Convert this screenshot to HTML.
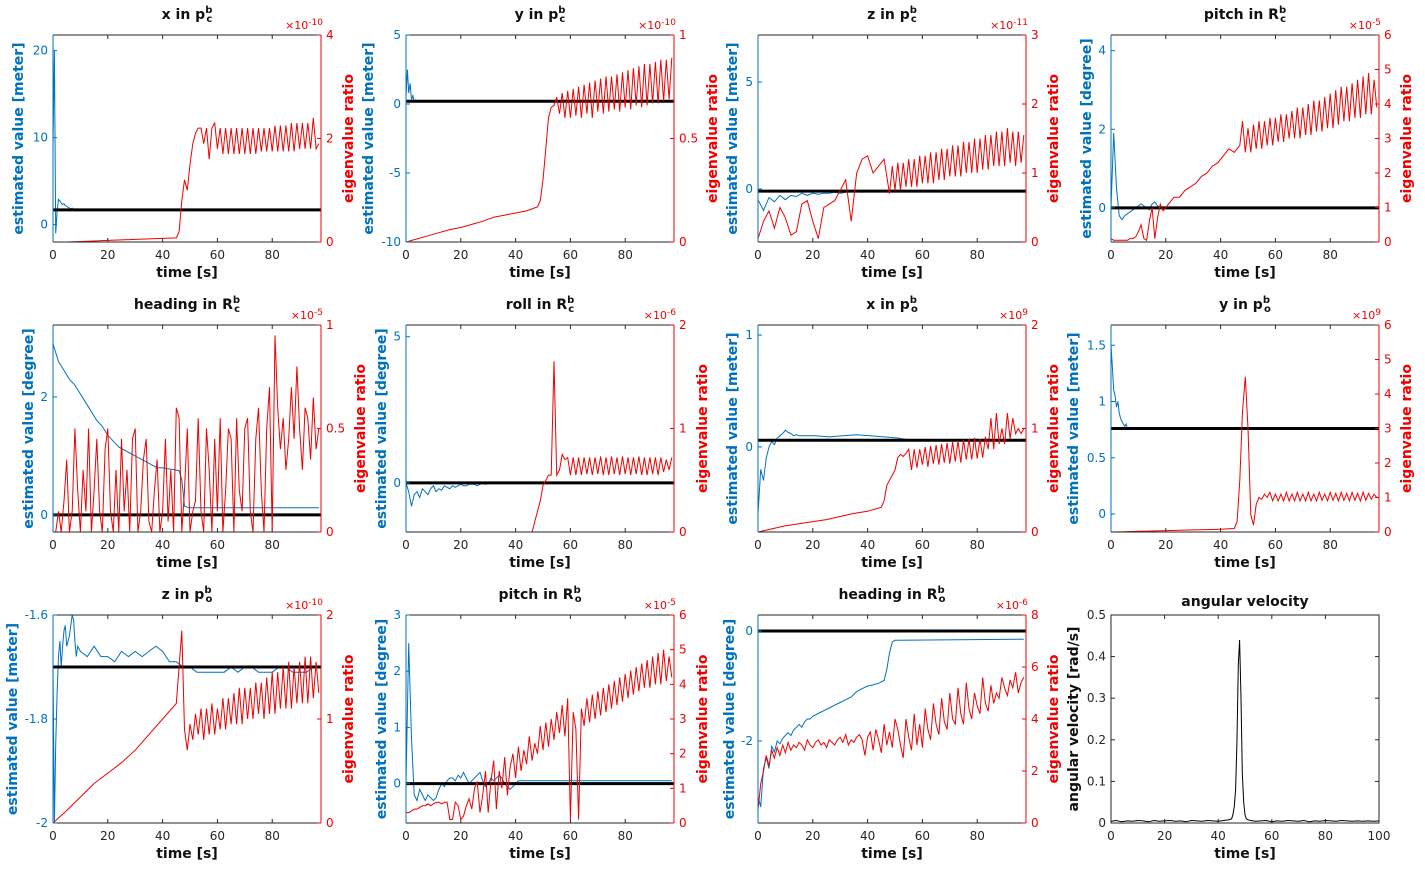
<!DOCTYPE html>
<html><head><meta charset="utf-8"><style>
body{margin:0;background:#fff}
svg{display:block;font-family:"DejaVu Sans","Liberation Sans",sans-serif}
</style></head><body>
<svg id="fig" width="1425" height="869" viewBox="0 0 1425 869" xmlns="http://www.w3.org/2000/svg"></svg>
<script>
// ---- data (segments: start time, step, values) ----
const p1BlueA=[9,20,-1,1.5,2.9,2.7,2.5,2.3,2.4,2.2,2.1,2.0,1.9,1.8,1.9,1.7];
const p1RedA=[0,0,0.01,0.02,0.03,0.04,0.05,0.06,0.07,0.08];
const p1RedB=[0.2,0.8,1.2,1.0,1.5,1.9,2.1,2.2,2.2,1.9,2.2,1.6,2.2,2.3,1.8,2.2,1.7,2.2,1.7,2.2,1.7,2.2,1.7,2.2,1.7,2.2,1.7,2.2,1.7,2.2,1.75,2.2,1.75,2.2,1.75,2.25,1.75,2.25,1.75,2.25,1.75,2.3,1.75,2.3,1.8,2.3,1.8,2.3,1.8,2.4,1.8,1.9];
const p2BlueA=[0.5,2.5,0.8,1.5,0.3,0.6,0.2,0.3,0.2];
const p2RedA=[0,0.015,0.03,0.045,0.06,0.07,0.085,0.1,0.12,0.13,0.14,0.15,0.17];
const p2RedB=[0.2,0.3,0.45,0.6,0.65,0.66,0.7,0.62,0.72,0.6,0.73,0.6,0.74,0.61,0.75,0.6,0.76,0.62,0.77,0.6,0.78,0.63,0.79,0.62,0.8,0.63,0.8,0.64,0.81,0.63,0.82,0.65,0.83,0.64,0.84,0.66,0.85,0.65,0.86,0.66,0.86,0.67,0.87,0.67,0.88,0.68,0.88,0.69,0.89];
const p3BlueA=[-0.5,-1.0,-0.4,-0.6,-0.3,-0.5,-0.3,-0.35,-0.2,-0.3,-0.2,-0.25,-0.2,-0.2,-0.15,-0.2,-0.15,-0.1,-0.1,-0.15,-0.1];
const p3RedA=[0.05,0.3,0.45,0.2,0.5,0.35,0.1,0.15,0.55,0.6,0.3,0.05,0.5,0.55,0.6,0.75,0.9,0.3,1.0,1.2,1.25,1.0,1.1,1.2];
const p3RedB=[0.7,1.1,0.75,1.15,0.75,1.15,0.8,1.2,0.8,1.2,0.8,1.25,0.85,1.25,0.85,1.3,0.85,1.3,0.9,1.35,0.9,1.35,0.95,1.4,0.95,1.4,0.95,1.45,1.0,1.45,1.0,1.5,1.0,1.5,1.05,1.55,1.05,1.55,1.1,1.6,1.1,1.6,1.1,1.65,1.15,1.6,1.1,1.6,1.15,1.55];
const p4BlueA=[0,1.9,0.5,-0.2,-0.3,-0.2,-0.15,-0.1,-0.05,0,0.05,0.1,0.05,0,-0.05,0.1,0.15,0.05,0.0,0.02];
const p4RedA=[0.1,0.05,0.05,0.05,0.05,0.05,0.05,0.1,0.1,0.15,0.3,0.5,0.1,0.05,0.6,1.0,0.1,0.7,1.1,0.9,1.0];
const p4RedB=[1.1,1.3,1.3,1.5,1.6,1.7,1.9,2.0,2.2,2.3,2.5,2.7,2.6,2.8];
const p4RedC=[3.5,2.6,3.3,2.6,3.4,2.7,3.5,2.7,3.5,2.8,3.6,2.8,3.6,2.9,3.7,2.9,3.7,3.0,3.8,3.0,3.9,3.0,3.9,3.1,4.0,3.1,4.1,3.2,4.1,3.2,4.2,3.3,4.3,3.3,4.4,3.4,4.5,3.5,4.5,3.5,4.6,3.6,4.7,3.6,4.8,3.7,4.9,3.7,4.7,3.9];
const p5BlueA=[2.9,2.6,2.45,2.3,2.2,2.05,1.9,1.75,1.6,1.5,1.35,1.25,1.15,1.1,1.05,1.0,0.95,0.9,0.85,0.8,0.8,0.78,0.77,0.75];
const p5BlueB=[0.6,0.15,0.13,0.12];
const p5RedA=[0,0,0.1,0,0.15,0.35,0,0.1,0.5,0.2,0,0.3,0.1,0.5,0,0.2,0.45,0.1,0,0.4,0.5,0.1,0,0.3,0,0.45,0.1,0.3,0,0.45,0.5,0,0.1,0.35,0.45,0.05,0,0.2,0.35,0,0.1,0.45,0.05,0.3,0,0.6,0.55,0,0.2,0.5,0,0.1,0.15,0.55,0.1,0,0.5,0.3,0,0.45,0.1,0.55,0,0.2,0.5,0.45,0,0.55,0.2,0.1,0.5,0.55,0.1,0,0.45,0.6,0.2,0,0.5,0.7,0.0];
const p5RedB=[0.95,0.6,0.4,0.55,0.3,0.45,0.7,0.45,0.8,0.5,0.3,0.6,0.55,0.35,0.65,0.4,0.5];
const p6BlueA=[0,-0.3,-0.8,-0.4,-0.3,-0.5,-0.2,-0.3,-0.4,-0.2,-0.1,-0.3,-0.2,-0.25,-0.1,-0.15,-0.2,-0.1,-0.15,-0.1,-0.05,-0.1,-0.1,-0.05,-0.05,-0.05,-0.1,-0.05,0,-0.05,-0.02];
const p6RedA=[0,0.1,0.2,0.3,0.45,0.5,0.55,0.55,1.65,0.55,0.6,0.75,0.7,0.72,0.55,0.72,0.55,0.72,0.55,0.72,0.56,0.72,0.55,0.72,0.56,0.73,0.55,0.72,0.55,0.73,0.56,0.72,0.55,0.73,0.56,0.72,0.55,0.72,0.56,0.73,0.55,0.72,0.55,0.72,0.56,0.72,0.55,0.72,0.58,0.7,0.6,0.72];
const p7BlueA=[-0.6,-0.2,-0.3,-0.1,0,0.05,0.02,0.08,0.1,0.12,0.15,0.13,0.12,0.1,0.11,0.1];
const p7BlueB=[0.1,0.1,0.09,0.1,0.11,0.1,0.09,0.08,0.06];
const p7RedA=[0,0.03,0.06,0.08,0.1,0.12,0.15,0.18,0.2,0.24];
const p7RedB=[0.3,0.45,0.5,0.55,0.6,0.72,0.75,0.73,0.76,0.8,0.6,0.8,0.62,0.8,0.65,0.82,0.63,0.83,0.66,0.84,0.65,0.85,0.67,0.86,0.66,0.87,0.68,0.88,0.67,0.89,0.7,0.9,0.7,0.91,0.71,0.9,0.72,0.92,0.8,1.1,0.8,1.15,0.85,1.0,0.85,1.15,0.9,1.1,0.95,1.0,0.95,1.0];
const p8BlueA=[1.5,1.3,1.1,1.05,0.95,1.0,0.9,0.85,0.82,0.8,0.78,0.8,0.76,0.75,0.77,0.75,0.76];
const p8RedA=[0,0.01,0.02,0.03,0.04,0.05,0.06,0.07,0.08,0.1];
const p8RedB=[0.3,1.5,3.5,4.5,3.0,0.5,0.2,0.8,1.0,0.95,1.1,1.0,1.15,0.9,1.1,0.9,1.1,0.9,1.15,0.9,1.1,0.9,1.15,0.9,1.1,0.9,1.15,0.9,1.1,0.9,1.15,0.92,1.1,0.9,1.15,0.92,1.12,0.9,1.15,0.92,1.12,0.9,1.15,0.92,1.12,0.9,1.15,0.92,1.12,0.95,1.1,1.0];
const p9BlueA=[-1.7,-2.0,-1.85,-1.75,-1.68,-1.65,-1.7,-1.66,-1.63,-1.62,-1.66,-1.65,-1.64,-1.62,-1.6,-1.61,-1.65,-1.68,-1.66];
const p9BlueB=[-1.67,-1.68,-1.66,-1.68,-1.68,-1.69,-1.67,-1.68,-1.67,-1.68,-1.67,-1.66,-1.67,-1.69,-1.69,-1.7,-1.7,-1.71,-1.71,-1.71,-1.71,-1.71,-1.7,-1.71,-1.7,-1.7,-1.71,-1.71,-1.71,-1.7,-1.7,-1.71,-1.71,-1.71,-1.7];
const p9RedA=[0,0.12,0.25,0.38,0.48,0.58,0.7,0.85,1.0,1.15];
const p9RedB=[1.5,1.85,0.9,0.7,0.95,0.8,1.05,0.85,1.1,0.8,1.1,0.85,1.15,0.85,1.1,0.9,1.2,0.9,1.2,0.95,1.25,0.95,1.3,0.95,1.3,1.0,1.3,1.0,1.35,1.05,1.35,1.0,1.4,1.05,1.45,1.05,1.45,1.1,1.5,1.1,1.55,1.1,1.5,1.15,1.55,1.15,1.6,1.15,1.6,1.2,1.55,1.25];
const p10BlueA=[0,2.5,0.8,-0.2,-0.3,-0.1,-0.2,-0.3,-0.2,-0.25,-0.3,-0.25,-0.1,0,-0.05,0.05,0.1,0.1,0.05,0.15,0.1,0.2,0.1,0.0,0.05,0.1,0.15,0.2,0.05,-0.05,0.0,0.1,0.05,0.1,0.15,0.1,0.0,-0.05,-0.1,-0.05,0.0,0.05,0.05];
const p10RedA=[0.3,0.3,0.35,0.4,0.4,0.45,0.5,0.5,0.55,0.5,0.55,0.6,0.6,0.55,0.6,0.6,0.1,0.1,0.6,0.5,0.1,0.2,0.5,0.7,0.4,1.0,1.2,0.3,0.8,1.5];
const p10RedB=[0.3,1.2,1.8,0.4,1.5,1.0,1.9,0.8,1.6,2.0,1.3,2.2,1.5,2.1,1.7,2.5,1.8,2.3,2.0,2.8,2.1,2.9,2.2,3.0,2.4,3.2,2.6,3.4,2.5,3.6,0.1,3.2,2.7,0.1,3.3,2.8,3.6,2.9,3.7,3.0,3.8,3.1,3.9,3.2,4.0,3.3,4.1,3.4,4.2,3.5,4.3,3.6,4.4,3.7,4.5,3.8,4.6,3.9,4.7,3.9,4.8,4.0,4.9,4.0,5.0,4.1,4.8,4.2];
const p11BlueA=[-3.0,-3.2,-2.5,-2.3,-2.5,-2.1,-2.2,-2.0,-2.05,-1.95,-1.9,-1.85,-1.9,-1.8,-1.75,-1.7,-1.75,-1.65,-1.6,-1.6,-1.55];
const p11BlueB=[-1.5,-1.45,-1.4,-1.35,-1.3,-1.25,-1.2,-1.1,-1.05,-1.0,-0.98,-0.95,-0.9];
const p11BlueC=[-0.7,-0.4,-0.2,-0.17,-0.17];
const p11RedA=[0.5,1.5,2.0,2.6,2.2,2.8,2.5,2.9,2.6,3.0,2.7,3.1,2.8,3.0,2.9,3.1];
const p11RedB=[3.0,2.8,3.2,3.0,2.9,3.1,3.2,3.0,3.1,2.9,3.2,3.1,3.0,3.2,3.3,3.1,3.4,3.0,3.2,3.1,3.3,3.4,3.2,2.6,3.3,3.5,2.8,3.6,3.2,2.7,3.8,3.0,3.5,2.9,4.0,3.6,3.0,2.5,4.0,3.3,2.8,4.2,3.0,3.8,2.9,4.4,3.6,3.2,4.6,3.8,3.4,4.8,3.9,3.6,5.0,4.0,3.8,5.2,4.2,3.8,5.4,4.4,4.0,5.0,4.5,4.2,5.6,4.6,4.3,5.3,4.6,5.0,4.8,5.6,5.2,4.9,5.5,5.2,5.8,5.0,5.4,5.6];
const p12A=[0.004,0.006,0.003,0.005,0.004,0.006,0.005,0.003,0.006,0.004,0.005,0.006,0.004,0.005,0.003,0.006,0.005,0.004,0.006,0.005,0.004,0.006,0.008];
const p12B=[0.01,0.02,0.04,0.08,0.2,0.38,0.44,0.3,0.12,0.05,0.02,0.01,0.008];
const p12C=[0.006,0.004,0.005,0.006,0.003,0.005,0.004,0.006,0.005,0.004,0.006,0.003,0.005,0.004,0.006,0.005,0.004,0.006,0.005,0.004,0.005,0.004,0.005,0.004,0.005];
const refLevels=[1.7,0.2,-0.1,0,0,0,0.06,0.76,-1.7,0,0];

const BLUE='#0072BD',RED='#F00000';
const cols=[[53,321],[406,674],[758,1026],[1111,1379]];
const rows=[[35,242],[325,532],[615,823]];
const panels=[
 {c:0,r:0,t:'x',sym:'p',sub:'c',unit:'meter',L:[-2,21.8],Lt:[0,10,20],R:[0,4],Rt:[0,2,4],ex:'-10',oL:35,oR:27,
  blue:[[0,0.5,p1BlueA],[7.5,89.5,[1.7,1.7]]],red:[[0,5,p1RedA],[46,1,p1RedB]]},
 {c:1,r:0,t:'y',sym:'p',sub:'c',unit:'meter',L:[-10,5],Lt:[-10,-5,0,5],R:[0,1],Rt:[0,0.5,1],ex:'-10',oL:38,oR:38,
  blue:[[0,0.5,p2BlueA],[4,93,[0.2,0.2]]],red:[[0,4,p2RedA],[49,1,p2RedB]]},
 {c:2,r:0,t:'z',sym:'p',sub:'c',unit:'meter',L:[-2.48,7.2],Lt:[0,5],R:[0,3],Rt:[0,1,2,3],ex:'-11',oL:26,oR:27,
  blue:[[0,2,p3BlueA],[40,57,[-0.1,-0.1]]],red:[[0,2,p3RedA],[48,1,p3RedB]]},
 {c:3,r:0,t:'pitch',sym:'R',sub:'c',unit:'degree',L:[-0.87,4.4],Lt:[0,2,4],R:[0,6],Rt:[0,1,2,3,4,5,6],ex:'-5',oL:25,oR:27,
  blue:[[0,1,p4BlueA],[19,78,[0.02,0.02]]],red:[[0,1,p4RedA],[21,2,p4RedB],[48,1,p4RedC]]},
 {c:0,r:1,t:'heading',sym:'R',sub:'c',unit:'degree',L:[-0.29,3.22],Lt:[0,2],R:[0,1],Rt:[0,0.5,1],ex:'-5',oL:25,oR:39,
  blue:[[0,2,p5BlueA],[47,1,p5BlueB],[50,47,[0.12,0.12]]],red:[[0,1,p5RedA],[81,1,p5RedB]]},
 {c:1,r:1,t:'roll',sym:'R',sub:'c',unit:'degree',L:[-1.68,5.4],Lt:[0,5],R:[0,2],Rt:[0,1,2],ex:'-6',oL:25,oR:28,
  blue:[[0,1,p6BlueA],[30,67,[0,0]]],red:[[46,1,p6RedA]]},
 {c:2,r:1,t:'x',sym:'p',sub:'o',unit:'meter',L:[-0.76,1.09],Lt:[0,1],R:[0,2],Rt:[0,1,2],ex:'9',oL:26,oR:27,
  blue:[[0,1,p7BlueA],[16,5,p7BlueB],[56,41,[0.06,0.06]]],red:[[0,5,p7RedA],[46,1,p7RedB]]},
 {c:3,r:1,t:'y',sym:'p',sub:'o',unit:'meter',L:[-0.16,1.68],Lt:[0,0.5,1,1.5],R:[0,6],Rt:[0,1,2,3,4,5,6],ex:'9',oL:38,oR:27,
  blue:[[0,0.5,p8BlueA],[8,89,[0.76,0.76]]],red:[[0,5,p8RedA],[46,1,p8RedB]]},
 {c:0,r:2,t:'z',sym:'p',sub:'o',unit:'meter',L:[-2,-1.6],Lt:[-2,-1.8,-1.6],R:[0,2],Rt:[0,1,2],ex:'-10',oL:41,oR:27,
  blue:[[0,0.5,p9BlueA],[10,2.5,p9BlueB]],red:[[0,5,p9RedA],[46,1,p9RedB]]},
 {c:1,r:2,t:'pitch',sym:'R',sub:'o',unit:'degree',L:[-0.7,3],Lt:[0,1,2,3],R:[0,6],Rt:[0,1,2,3,4,5,6],ex:'-5',oL:25,oR:28,
  blue:[[0,1,p10BlueA],[42,55,[0.05,0.05]]],red:[[0,1,p10RedA],[30,1,p10RedB]]},
 {c:2,r:2,t:'heading',sym:'R',sub:'o',unit:'degree',L:[-3.49,0.29],Lt:[-2,0],R:[0,8],Rt:[0,2,4,6,8],ex:'-6',oL:29,oR:27,
  blue:[[0,1,p11BlueA],[22,2,p11BlueB],[47,1,p11BlueC],[51,46,[-0.17,-0.15]]],red:[[0,1,p11RedA],[16,1,p11RedB]]},
];
const NS='http://www.w3.org/2000/svg';
const svg=document.getElementById('fig');
function mk(tag,attrs,parent,txt){const e=document.createElementNS(NS,tag);for(const k in attrs)e.setAttribute(k,attrs[k]);if(txt!==undefined)e.textContent=txt;(parent||svg).appendChild(e);return e;}
function pts(segs,sx,sy){const out=[];segs.forEach(s=>{s[2].forEach((v,i)=>{out.push(sx(s[0]+i*s[1]).toFixed(1)+','+sy(v).toFixed(1));});});return out.join(' ');}
function title(g,cx,y,p){
  const t=mk('text',{x:cx,y:y,'text-anchor':'middle','font-size':14,'font-weight':'bold',fill:'#111'},g);
  
  const a=mk('tspan',{},t,p.t+' in '+p.sym);
  mk('tspan',{dy:-6,'font-size':10},t,'b');
  mk('tspan',{dx:-6,dy:9,'font-size':10},t,p.sub);
}
function drawAxes(g,x0,x1,y0,y1,xmax,xt){
  const sx=t=>x0+t/xmax*(x1-x0);
  xt.forEach(v=>{const x=sx(v);
    mk('line',{x1:x,x2:x,y1:y1,y2:y1-4,stroke:'#262626'},g);mk('line',{x1:x,x2:x,y1:y0,y2:y0+4,stroke:'#262626'},g);
    const tl=mk('text',{x:x,y:y1+17,'text-anchor':'middle','font-size':12,fill:'#262626'},g,String(v));
    });
  const xl=mk('text',{x:(x0+x1)/2,y:y1+35,'text-anchor':'middle','font-size':14,'font-weight':'bold',fill:'#111'},g,'time [s]');
  
  return sx;
}
panels.forEach((p,idx)=>{
  const [x0,x1]=cols[p.c],[y0,y1]=rows[p.r];
  const g=mk('g',{});
  
  const sx=drawAxes(g,x0,x1,y0,y1,97.8,[0,20,40,60,80]);
  const syL=v=>y1-(v-p.L[0])/(p.L[1]-p.L[0])*(y1-y0);
  const syR=v=>y1-(v-p.R[0])/(p.R[1]-p.R[0])*(y1-y0);
  const cid='clip'+idx;const cp=mk('clipPath',{id:cid},g);mk('rect',{x:x0,y:y0,width:x1-x0,height:y1-y0},cp);
  const bl=mk('polyline',{points:pts(p.blue,sx,syL),fill:'none',stroke:BLUE,'stroke-width':1,'clip-path':'url(#'+cid+')'},g);
  
  const ref=mk('line',{x1:x0,x2:x1,y1:syL(refLevels[idx]),y2:syL(refLevels[idx]),stroke:'#000','stroke-width':3},g);
  
  const rl=mk('polyline',{points:pts(p.red,sx,syR),fill:'none',stroke:RED,'stroke-width':1,'clip-path':'url(#'+cid+')'},g);
  
  mk('line',{x1:x0,x2:x1,y1:y0,y2:y0,stroke:'#262626'},g);mk('line',{x1:x0,x2:x1,y1:y1,y2:y1,stroke:'#262626'},g);
  mk('line',{x1:x0,x2:x0,y1:y0,y2:y1,stroke:BLUE},g);mk('line',{x1:x1,x2:x1,y1:y0,y2:y1,stroke:RED},g);
  p.Lt.forEach(v=>{const y=syL(v);mk('line',{x1:x0,x2:x0+4,y1:y,y2:y,stroke:BLUE},g);
    const t=mk('text',{x:x0-5,y:y+4,'text-anchor':'end','font-size':12,fill:BLUE},g,String(v));
    });
  p.Rt.forEach(v=>{const y=syR(v);mk('line',{x1:x1,x2:x1-4,y1:y,y2:y,stroke:RED},g);
    const t=mk('text',{x:x1+5,y:y+4,'text-anchor':'start','font-size':12,fill:RED},g,String(v));
    });
  const ex=mk('text',{x:x1+2,y:y0-6,'text-anchor':'end','font-size':11,fill:RED},g);
  
  mk('tspan',{},ex,'\u00d710');mk('tspan',{dy:-4,'font-size':9},ex,p.ex);
  const lx=x0-p.oL+5;
  const ll=mk('text',{x:lx,y:(y0+y1)/2,transform:'rotate(-90 '+lx+' '+(y0+y1)/2+')','text-anchor':'middle','font-size':14,'font-weight':'bold',fill:BLUE},g,'estimated value ['+p.unit+']');
  
  const rx=x1+p.oR+5;
  const rt=mk('text',{x:rx,y:(y0+y1)/2,transform:'rotate(-90 '+rx+' '+(y0+y1)/2+')','text-anchor':'middle','font-size':14,'font-weight':'bold',fill:RED},g,'eigenvalue ratio');
  
  title(g,(x0+x1)/2,y0-16,p);
});
// angular velocity panel
(function(){
  const [x0,x1]=cols[3],[y0,y1]=rows[2];
  const g=mk('g',{});
  
  const sx=drawAxes(g,x0,x1,y0,y1,100,[0,20,40,60,80,100]);
  const sy=v=>y1-v/0.5*(y1-y0);
  const ln=mk('polyline',{points:pts([[0,2,p12A],[45,0.5,p12B],[52,2,p12C]],sx,sy),fill:'none',stroke:'#000','stroke-width':1},g);
  
  mk('rect',{x:x0,y:y0,width:x1-x0,height:y1-y0,fill:'none',stroke:'#262626'},g);
  [0,0.1,0.2,0.3,0.4,0.5].forEach(v=>{const y=sy(v);mk('line',{x1:x0,x2:x0+4,y1:y,y2:y,stroke:'#262626'},g);mk('line',{x1:x1,x2:x1-4,y1:y,y2:y,stroke:'#262626'},g);
    const t=mk('text',{x:x0-5,y:y+4,'text-anchor':'end','font-size':12,fill:'#262626'},g,String(v));
    });
  const lx=x0-38+5;
  const ll=mk('text',{x:lx,y:(y0+y1)/2,transform:'rotate(-90 '+lx+' '+(y0+y1)/2+')','text-anchor':'middle','font-size':14,'font-weight':'bold',fill:'#111'},g,'angular velocity [rad/s]');
  
  const t=mk('text',{x:(x0+x1)/2,y:y0-9,'text-anchor':'middle','font-size':14,'font-weight':'bold',fill:'#111'},g,'angular velocity');
  
})();
</script>
</body></html>
